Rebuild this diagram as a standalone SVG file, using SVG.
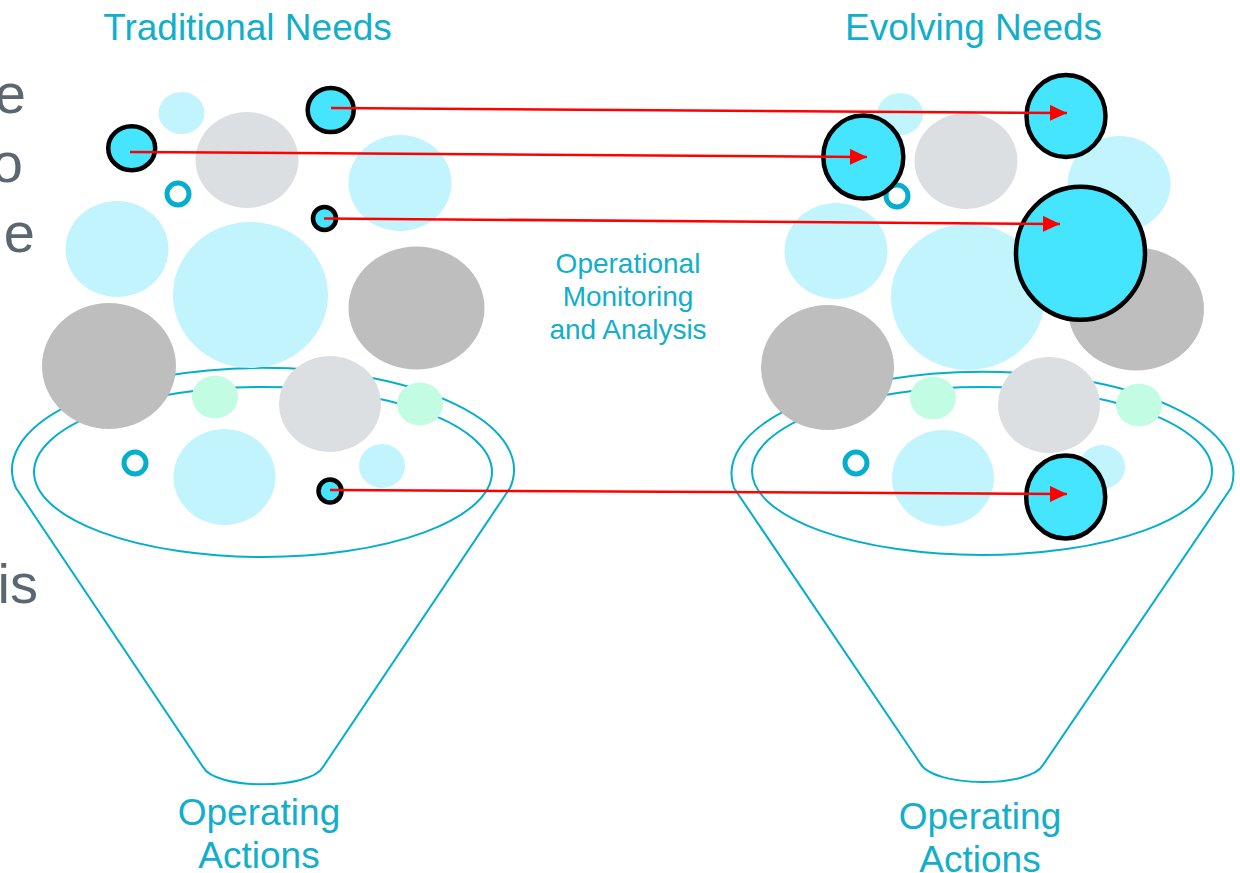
<svg xmlns="http://www.w3.org/2000/svg" width="1240" height="873" viewBox="0 0 1240 873">
<style>
.bg{fill:#ffffff}
.lb{fill:#C1F4FD}
.gl{fill:#DCDFE2}
.gd{fill:#BEBEBE}
.mt{fill:#C1FCE3}
.hl{fill:#45E4FF;stroke:#000000;stroke-width:4.5}
.ring{fill:none;stroke:#05AFCB;stroke-width:5}
.fun{fill:none;stroke:#05AFCB;stroke-width:2}
.t{font-family:"Liberation Sans",Arial,sans-serif;fill:#12AECB;text-anchor:middle}
.g{font-family:"Liberation Sans",Arial,sans-serif;fill:#5B6770;text-anchor:end;font-size:56px}
.arr{stroke:#FF0000;stroke-width:2.5;fill:none;marker-end:url(#ah)}
</style>
<defs>
<marker id="ah" markerUnits="userSpaceOnUse" markerWidth="19" markerHeight="17" refX="17" refY="8" orient="auto">
<path d="M0,0 L17,8 L0,16 z" fill="#FF0000"/>
</marker>
</defs>
<rect class="bg" x="0" y="0" width="1240" height="873"/>

<g id="side-text">
<text class="g" x="26" y="113">e</text>
<text class="g" x="23" y="182">o</text>
<text class="g" x="35" y="252">e</text>
<text class="g" x="38" y="603">is</text>
</g>

<g id="funnel-traditional">
<path class="fun" d="M16,488 A251,102 0 1 1 510,488 L323,767 C310,790 215,790 203,767 Z"/>
<ellipse class="fun" cx="263" cy="472" rx="229" ry="85"/>
</g>
<g id="funnel-evolving">
<path class="fun" d="M734,488 A251,102 0 1 1 1231,488 L1043,765 C1030,788 933,788 920,763 Z"/>
<ellipse class="fun" cx="982" cy="471" rx="230" ry="84"/>
</g>

<g id="bubbles-traditional">
<ellipse class="lb" cx="181.5" cy="113" rx="23" ry="21"/>
<ellipse class="gl" cx="247" cy="160" rx="51.5" ry="48"/>
<ellipse class="lb" cx="400" cy="183" rx="51.5" ry="48"/>
<ellipse class="lb" cx="117" cy="249" rx="51.5" ry="48"/>
<ellipse class="lb" cx="250.5" cy="295" rx="77.5" ry="73"/>
<ellipse class="gd" cx="416.5" cy="308" rx="68" ry="61.5"/>
<ellipse class="gd" cx="109" cy="366" rx="67" ry="63"/>
<ellipse class="mt" cx="215" cy="397" rx="23" ry="21.5"/>
<ellipse class="gl" cx="330" cy="404" rx="51" ry="48"/>
<ellipse class="mt" cx="420" cy="404" rx="23" ry="21.5"/>
<ellipse class="lb" cx="224.5" cy="477" rx="51" ry="48"/>
<ellipse class="lb" cx="382" cy="466" rx="23" ry="22"/>
<circle class="ring" cx="135" cy="463" r="11"/>
<circle class="ring" cx="178" cy="194" r="11"/>
</g>
<g id="key-traditional">
<ellipse class="hl" cx="330.7" cy="110" rx="23" ry="22"/>
<ellipse class="hl" cx="131.7" cy="148.2" rx="23.5" ry="22"/>
<circle class="hl" cx="324.5" cy="218.5" r="11.5"/>
<circle class="hl" cx="330" cy="491" r="11.5"/>
</g>

<g id="bubbles-evolving">
<ellipse class="lb" cx="900" cy="114" rx="23" ry="21"/>
<ellipse class="gl" cx="966" cy="161" rx="51.5" ry="48"/>
<ellipse class="lb" cx="1119" cy="184" rx="51.5" ry="48"/>
<ellipse class="lb" cx="836" cy="251" rx="51.5" ry="48"/>
<ellipse class="lb" cx="968" cy="297" rx="77" ry="73"/>
<ellipse class="gd" cx="1136" cy="309" rx="68" ry="61.5"/>
<ellipse class="gd" cx="827.5" cy="367.5" rx="66.5" ry="62.5"/>
<ellipse class="mt" cx="933" cy="398" rx="23" ry="21.5"/>
<ellipse class="gl" cx="1049" cy="405" rx="51" ry="48"/>
<ellipse class="mt" cx="1139" cy="405" rx="23" ry="21.5"/>
<ellipse class="lb" cx="943" cy="478" rx="51" ry="48"/>
<ellipse class="lb" cx="1102" cy="467" rx="23" ry="22"/>
<circle class="ring" cx="856" cy="463" r="11"/>
<circle class="ring" cx="897" cy="196" r="11"/>
</g>
<g id="key-evolving">
<ellipse class="hl" cx="1066" cy="116" rx="39.5" ry="41"/>
<ellipse class="hl" cx="863.3" cy="157" rx="40" ry="41.5"/>
<ellipse class="hl" cx="1080.5" cy="253.3" rx="64.5" ry="66.5"/>
<ellipse class="hl" cx="1065.7" cy="497" rx="39.5" ry="41.5"/>
</g>

<g id="connectors">
<line class="arr" x1="331" y1="108" x2="1067" y2="113"/>
<line class="arr" x1="130" y1="152" x2="867" y2="157"/>
<line class="arr" x1="324" y1="218.5" x2="1060" y2="224"/>
<line class="arr" x1="330" y1="490" x2="1067" y2="494"/>
</g>

<g id="labels">
<text class="t" x="247.5" y="40" font-size="37">Traditional Needs</text>
<text class="t" x="973.5" y="40" font-size="37">Evolving Needs</text>
<text class="t" x="628" y="273" font-size="28">Operational</text>
<text class="t" x="628" y="306" font-size="28">Monitoring</text>
<text class="t" x="628" y="339" font-size="28">and Analysis</text>
<text class="t" x="259" y="825" font-size="37">Operating</text>
<text class="t" x="259" y="868" font-size="37">Actions</text>
<text class="t" x="980" y="829" font-size="37">Operating</text>
<text class="t" x="980" y="872" font-size="37">Actions</text>
</g>
</svg>
